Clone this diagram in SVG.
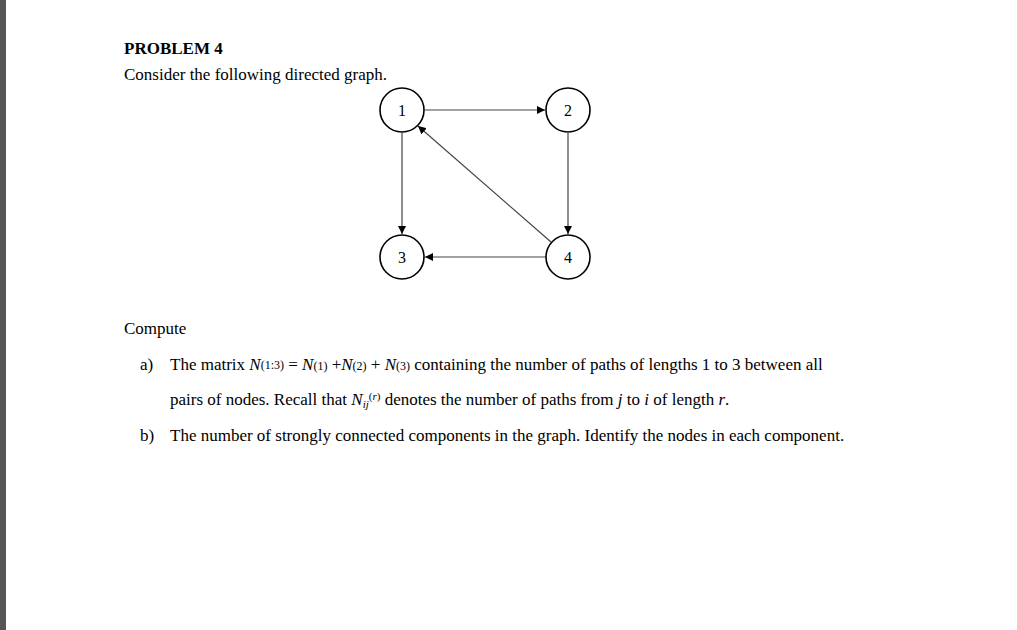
<svg xmlns="http://www.w3.org/2000/svg" width="1017" height="630" viewBox="0 0 1017 630">
<style>
text{font-family:"Liberation Serif","Times New Roman",serif;fill:#000;font-size:17px}
.n circle{fill:#fff;stroke:#000;stroke-width:1.6}
.n text{font-size:16px;text-anchor:middle}
.e line{stroke:#444;stroke-width:1.2;marker-end:url(#a)}
i{font-style:italic}
</style>
<defs><marker id="a" viewBox="0 0 10 10" refX="10" refY="5" markerWidth="8" markerHeight="8" markerUnits="userSpaceOnUse" orient="auto"><path d="M0,0L10,5L0,10z" fill="#000"/></marker></defs>
<rect width="1017" height="630" fill="#fff"/>
<rect x="0" y="0" width="6" height="630" fill="#555"/>
<text x="124" y="54" font-weight="bold" font-size="20">PROBLEM 4</text>
<text x="124" y="80">Consider the following directed graph.</text>
<g class="e">
<line x1="425" y1="110" x2="545" y2="110"/>
<line x1="568" y1="133" x2="568" y2="234"/>
<line x1="402" y1="133" x2="402" y2="234"/>
<line x1="546" y1="257" x2="425" y2="257"/>
<line x1="551" y1="242" x2="418" y2="126"/>
</g>
<g class="n" id="n1"><circle cx="402" cy="110" r="22"/><text x="402" y="116">1</text></g>
<g class="n" id="n2"><circle cx="568" cy="110" r="22"/><text x="568" y="116">2</text></g>
<g class="n" id="n3"><circle cx="402" cy="257" r="22"/><text x="402" y="263">3</text></g>
<g class="n" id="n4"><circle cx="568" cy="257" r="22"/><text x="568" y="263">4</text></g>
<text x="124" y="334">Compute</text>
<text x="140" y="370">a)</text>
<text x="170" y="370">The matrix <tspan font-style="italic">N</tspan><tspan font-size="12" dy="-1">(1:3)</tspan><tspan dy="1"> = </tspan><tspan font-style="italic">N</tspan><tspan font-size="12">(1)</tspan> +<tspan font-style="italic">N</tspan><tspan font-size="12">(2)</tspan> + <tspan font-style="italic">N</tspan><tspan font-size="12">(3)</tspan> containing the number of paths of lengths 1 to 3 between all</text>
<text x="170" y="405">pairs of nodes. Recall that <tspan font-style="italic">N</tspan><tspan font-style="italic" font-size="11" dy="3">ij</tspan><tspan font-size="11" dy="-8">(<tspan font-style="italic">r</tspan>)</tspan><tspan dy="5"> denotes the number of paths from </tspan><tspan font-style="italic">j</tspan> to <tspan font-style="italic">i</tspan> of length <tspan font-style="italic">r</tspan>.</text>
<text x="140" y="441">b)</text>
<text x="170" y="441">The number of strongly connected components in the graph. Identify the nodes in each component.</text>
</svg>
